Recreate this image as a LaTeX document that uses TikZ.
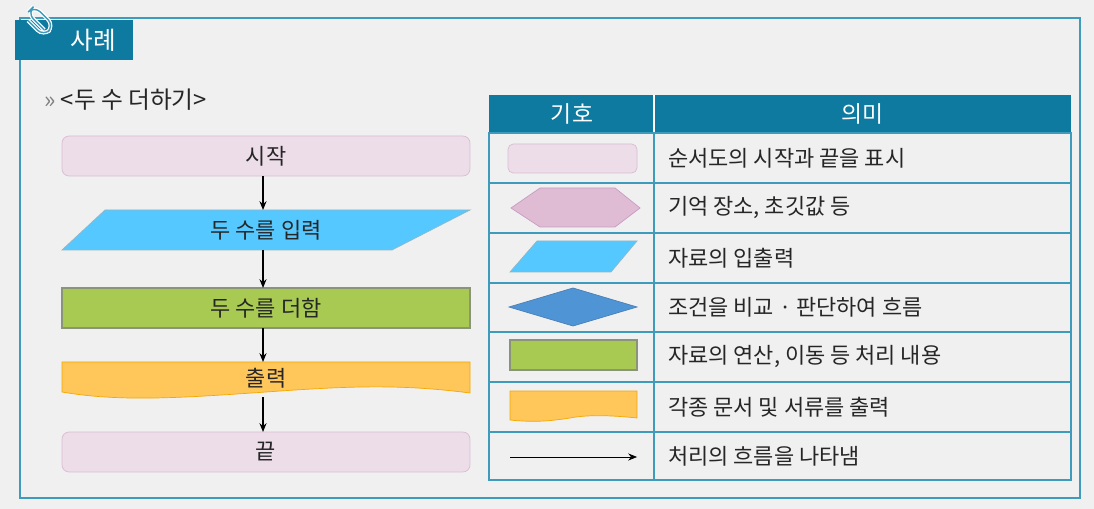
\documentclass[tikz,border=0pt]{standalone}
\usetikzlibrary{arrows.meta}
\usepackage{fontspec}
\setmainfont{Noto Sans CJK KR}
\definecolor{bg}{HTML}{F0F0F0}
\definecolor{teal}{HTML}{0E7AA0}
\definecolor{frame}{HTML}{3F9BBB}
\definecolor{pinkf}{HTML}{ECDDE8}
\definecolor{pinkd}{HTML}{D9BCD0}
\definecolor{hexf}{HTML}{DFBCD4}
\definecolor{hexd}{HTML}{C79BC2}
\definecolor{bluef}{HTML}{55C8FF}
\definecolor{blued}{HTML}{8FB8C8}
\definecolor{diaf}{HTML}{4F95D6}
\definecolor{diad}{HTML}{4A7FB5}
\definecolor{greenf}{HTML}{A8C952}
\definecolor{greend}{HTML}{8A9478}
\definecolor{orf}{HTML}{FFC65A}
\definecolor{ord}{HTML}{F5A800}
\begin{document}
\begin{tikzpicture}[x=0.02cm,y=-0.02cm,
  txt/.style={font=\fontsize{12.5pt}{14pt}\selectfont,text=black!85},
  arr/.style={-{Stealth[length=5pt,width=4pt]},black,thick}]
\useasboundingbox (0,0) rectangle (1094,509);
\fill[bg] (0,0) rectangle (1094,509);
% frame
\draw[frame,line width=1pt] (20,18) rectangle (1080,498);
\fill[teal] (15,20) rectangle (133,60);
\node[text=white,font=\fontsize{14pt}{16pt}\selectfont] (title) at (93,40) {사례};
% paperclip
\begin{scope}[rotate around={45:(40,20)}]
\draw[white,line width=2.2pt,rounded corners=5pt] (36,30) -- (36,6) -- (46,6) -- (46,34) -- (31,34) -- (31,12);
\draw[frame,line width=0.8pt,rounded corners=5pt] (36,30) -- (36,6) -- (46,6) -- (46,34) -- (31,34) -- (31,12);
\end{scope}
\node[txt,anchor=west,font=\fontsize{13.5pt}{15pt}\selectfont] (sub) at (38,100) {{\color{black!50}»} <두 수 더하기>};
% flowchart
\node[draw=pinkd,fill=pinkf,rounded corners=4pt,minimum width=8.16cm,minimum height=0.8cm,txt] (s) at (266,156) {시작};
\fill[bluef,draw=blued] (105,210) -- (470,210) -- (392,250) -- (62,250) -- cycle;
\node[txt] (in) at (266,230) {두 수를 입력};
\node[draw=greend,fill=greenf,minimum width=8.16cm,minimum height=0.8cm,txt,line width=1pt] (p) at (266,308) {두 수를 더함};
\fill[orf,draw=ord] (62,362) -- (470,362) -- (470,393) .. controls (400,384) and (350,386) .. (266,392) .. controls (180,398) and (120,402) .. (62,392) -- cycle;
\node[txt] (out) at (266,378) {출력};
\node[draw=pinkd,fill=pinkf,rounded corners=4pt,minimum width=8.16cm,minimum height=0.8cm,txt] (e) at (266,452) {끝};
\coordinate (inT) at (263,210); \coordinate (inB) at (263,250);
\coordinate (outT) at (263,362); \coordinate (outB) at (263,397);
\draw[arr] (263,176) -- (inT);
\draw[arr] (inB) -- (263,288);
\draw[arr] (263,328) -- (outT);
\draw[arr] (outB) -- (263,432);
% table
\fill[teal] (489,95) rectangle (1071,133);
\node[text=white,font=\fontsize{13pt}{15pt}\selectfont] (h1) at (572,114) {기호};
\node[text=white,font=\fontsize{13pt}{15pt}\selectfont] (h2) at (862,114) {의미};
\draw[white,line width=1pt] (654,95) -- (654,133);
\draw[frame,line width=0.8pt] (489,133) rectangle (1071,480);
\draw[frame,line width=0.8pt] (654,133) -- (654,480);
\foreach \y in {183,233,283,332,382,432} \draw[frame,line width=0.8pt] (489,\y) -- (1071,\y);
% symbols
\draw[pinkd,fill=pinkf,rounded corners=3pt] (508,144) rectangle (637,173);
\draw[hexd,fill=hexf] (511,208) -- (540,188) -- (615,188) -- (640,208) -- (615,227) -- (540,227) -- cycle;
\draw[blued,fill=bluef] (537,241) -- (637,241) -- (611,272) -- (510,272) -- cycle;
\draw[diad,fill=diaf] (509,307) -- (573,288) -- (637,307) -- (573,326) -- cycle;
\draw[greend,fill=greenf,line width=1pt] (510,340) rectangle (637,370);
\draw[ord,fill=orf] (510,391) -- (637,391) -- (637,418) .. controls (600,414) and (580,416) .. (570,418) .. controls (545,422) and (530,422) .. (510,420) -- cycle;
\coordinate (aL) at (510,457); \coordinate (aR) at (637,457);
\draw[-{Stealth[length=5pt,width=4pt]},black] (aL) -- (aR);
% meanings
\foreach \y/\t [count=\i] in {158/순서도의 시작과 끝을 표시,208/기억 장소{,} 초깃값 등,258/자료의 입출력,307/조건을 비교 · 판단하여 흐름,357/자료의 연산{,} 이동 등 처리 내용,407/각종 문서 및 서류를 출력,456/처리의 흐름을 나타냄}
  \node[txt,anchor=west] (m\i) at (662,\y) {\t};
\end{tikzpicture}
\end{document}
